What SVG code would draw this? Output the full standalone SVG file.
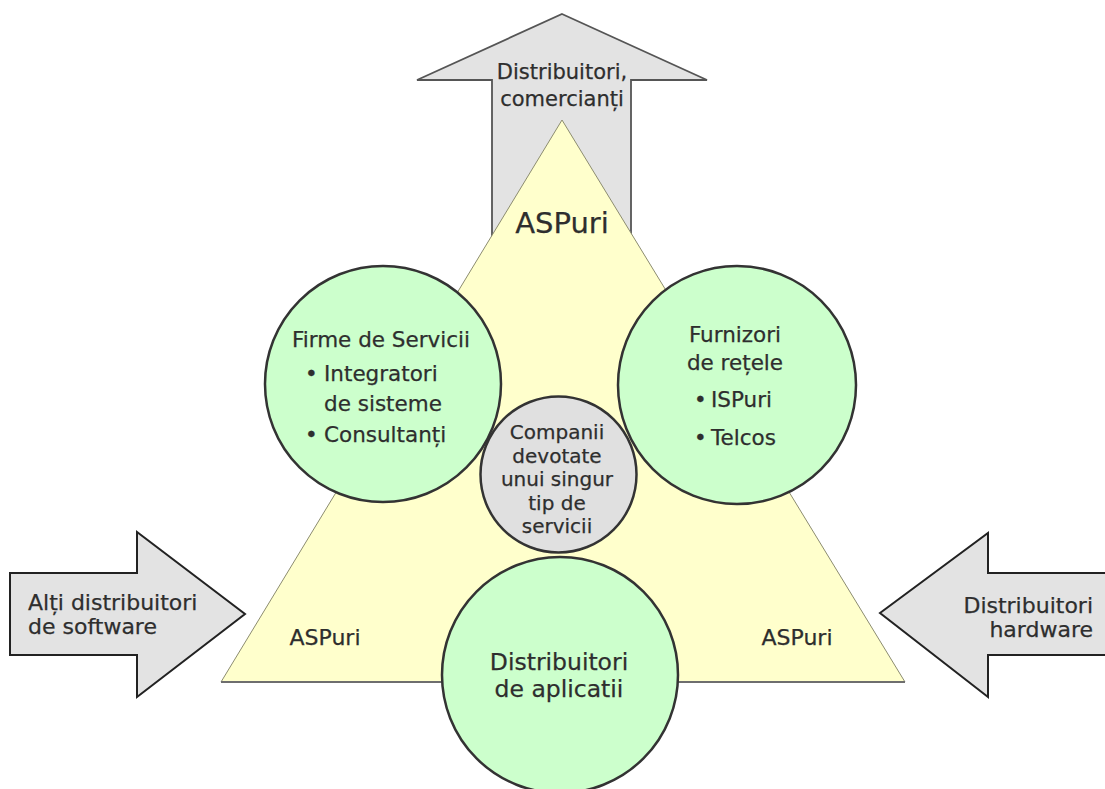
<svg xmlns="http://www.w3.org/2000/svg" width="1105" height="789" viewBox="0 0 1105 789">
<style>
.t{font-family:"DejaVu Sans","Liberation Sans",sans-serif;fill:#2e2e2e;stroke:#2e2e2e;stroke-width:0.25;}
.arrow{fill:#e3e3e3;stroke:#222;stroke-width:2;stroke-linejoin:miter;}
.green{fill:#ccffcc;stroke:#333;stroke-width:2.5;}
.gray{fill:#e0e0e0;stroke:#333;stroke-width:2.5;}
</style>
<rect width="1105" height="789" fill="#fff"/>
<g id="connectors">
  <polygon id="arrow-up" class="arrow" style="stroke:#555;stroke-width:1.8" points="562,14 707,80 631,80 631,240 492,240 492,80 417,80"/>
  <polygon id="arrow-left" class="arrow" points="10,573 137,573 137,532 245,614 137,697 137,655 10,655"/>
  <polygon id="arrow-right" class="arrow" points="880,613 988,533 988,573 1110,573 1110,655 988,655 988,697"/>
</g>
<g id="label-up">
  <text class="t" x="562" y="79" font-size="21" text-anchor="middle">Distribuitori,</text>
  <text class="t" x="562" y="106" font-size="21" text-anchor="middle">comercianți</text>
</g>
<g id="label-left">
  <text class="t" x="28" y="610" font-size="22">Alți distribuitori</text>
  <text class="t" x="28" y="634" font-size="22">de software</text>
</g>
<g id="label-right">
  <text class="t" x="1093" y="613" font-size="22" text-anchor="end">Distribuitori</text>
  <text class="t" x="1093" y="637" font-size="22" text-anchor="end">hardware</text>
</g>
<g id="triangle">
  <polygon points="562,120 905,682 221,682" fill="#ffffcc" stroke="#8c8c70" stroke-width="1"/>
  <line x1="221" y1="682" x2="905" y2="682" stroke="#6e6e6e" stroke-width="2"/>
  <text class="t" x="562" y="233" font-size="29" text-anchor="middle">ASPuri</text>
  <text class="t" x="325" y="645" font-size="22" text-anchor="middle">ASPuri</text>
  <text class="t" x="797" y="645" font-size="22" text-anchor="middle">ASPuri</text>
</g>
<g id="node-firme">
  <circle class="green" cx="383" cy="384" r="118"/>
  <text class="t" x="381" y="347" font-size="21.5" text-anchor="middle">Firme de Servicii</text>
  <text class="t" x="305" y="381" font-size="21.5">•</text>
  <text class="t" x="324" y="381" font-size="21.5">Integratori</text>
  <text class="t" x="324" y="411" font-size="21.5">de sisteme</text>
  <text class="t" x="305" y="442" font-size="21.5">•</text>
  <text class="t" x="324" y="442" font-size="21.5">Consultanți</text>
</g>
<g id="node-furnizori">
  <circle class="green" cx="737" cy="385" r="119"/>
  <text class="t" x="735" y="342" font-size="21.5" text-anchor="middle">Furnizori</text>
  <text class="t" x="735" y="370" font-size="21.5" text-anchor="middle">de rețele</text>
  <text class="t" x="694" y="407" font-size="21.5">•</text>
  <text class="t" x="711" y="407" font-size="21.5">ISPuri</text>
  <text class="t" x="694" y="445" font-size="21.5">•</text>
  <text class="t" x="711" y="445" font-size="21.5">Telcos</text>
</g>
<g id="node-companii">
  <circle class="gray" cx="558.5" cy="474.5" r="78"/>
  <text class="t" x="557" y="439" font-size="20" text-anchor="middle">Companii</text>
  <text class="t" x="557" y="463" font-size="20" text-anchor="middle">devotate</text>
  <text class="t" x="557" y="486" font-size="20" text-anchor="middle">unui singur</text>
  <text class="t" x="557" y="510" font-size="20" text-anchor="middle">tip de</text>
  <text class="t" x="557" y="533" font-size="20" text-anchor="middle">servicii</text>
</g>
<g id="node-distribuitori-aplicatii">
  <circle class="green" cx="560" cy="675" r="118"/>
  <text class="t" x="559" y="670" font-size="23.5" text-anchor="middle">Distribuitori</text>
  <text class="t" x="559" y="697" font-size="23.5" text-anchor="middle">de aplicatii</text>
</g>
</svg>
